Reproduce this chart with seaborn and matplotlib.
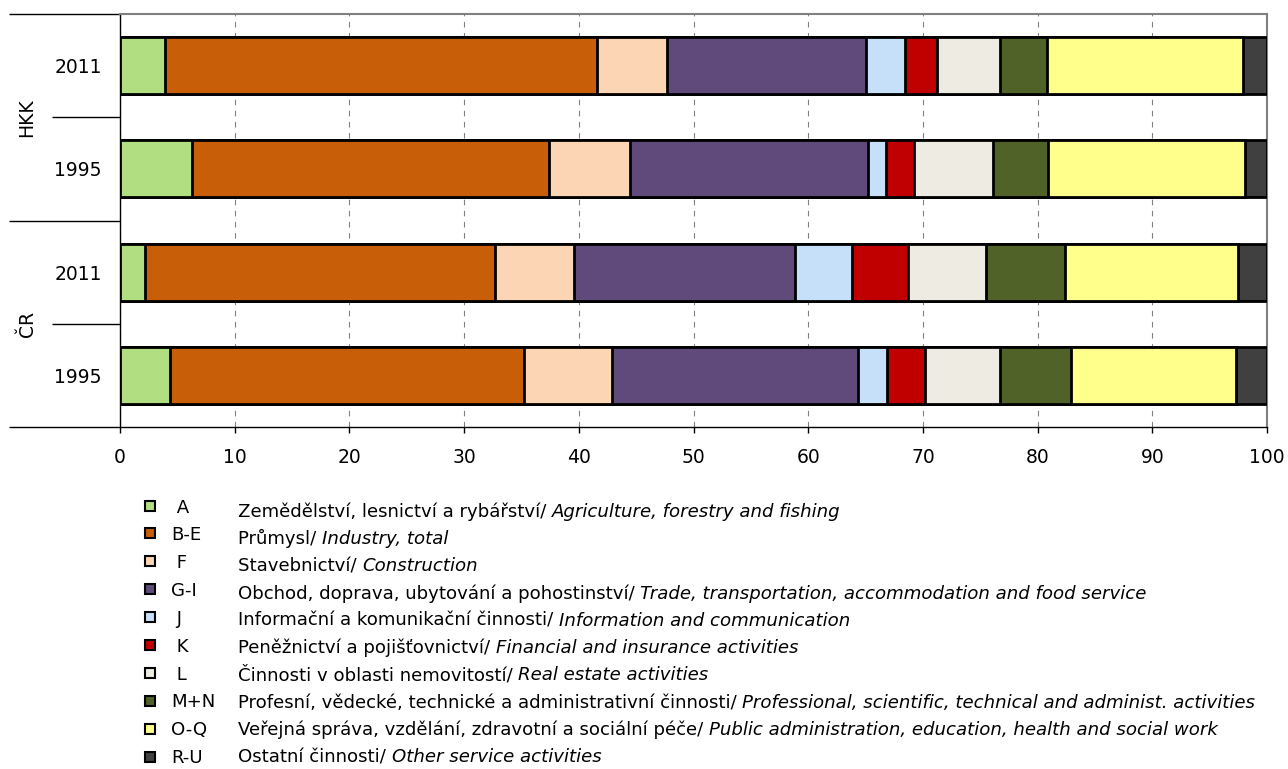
import matplotlib
matplotlib.use("Agg")
import matplotlib.pyplot as plt
import pandas as pd
import seaborn as sns
from matplotlib.patches import Rectangle

sections = ["A", "B-E", "F", "G-I", "J", "K", "L", "M+N", "O-Q", "R-U"]
section_colors = ["#B0DE80", "#C85E08", "#FCD5B4", "#604A7B", "#C5E0F8",
                  "#C00000", "#EEECE2", "#506228", "#FFFF8C", "#404040"]
desc_cz = [
    "Zemědělství, lesnictví a rybářství/ ",
    "Průmysl/ ",
    "Stavebnictví/ ",
    "Obchod, doprava, ubytování a pohostinství/ ",
    "Informační a komunikační činnosti/ ",
    "Peněžnictví a pojišťovnictví/ ",
    "Činnosti v oblasti nemovitostí/ ",
    "Profesní, vědecké, technické a administrativní činnosti/ ",
    "Veřejná správa, vzdělání, zdravotní a sociální péče/ ",
    "Ostatní činnosti/ ",
]
desc_en = [
    "Agriculture, forestry and fishing",
    "Industry, total",
    "Construction",
    "Trade, transportation, accommodation and food service",
    "Information and communication",
    "Financial and insurance activities",
    "Real estate activities",
    "Professional, scientific, technical and administ. activities",
    "Public administration, education, health and social work",
    "Other service activities",
]

row_regions = ["HKK", "HKK", "ČR", "ČR"]
row_years = ["2011", "1995", "2011", "1995"]

# shares of employment by section, %
hkk_2011 = [3.9, 37.7, 6.1, 17.3, 3.4, 2.8, 5.5, 4.1, 17.1, 2.1]
hkk_1995 = [6.3, 31.1, 7.1, 20.7, 1.6, 2.4, 6.95, 4.75, 17.2, 1.9]
cr_2011 = [2.2, 30.5, 6.9, 19.25, 5.0, 4.85, 6.8, 6.9, 15.1, 2.5]
cr_1995 = [4.4, 30.8, 7.7, 21.4, 2.6, 3.3, 6.5, 6.2, 14.4, 2.7]

rows = [hkk_2011, hkk_1995, cr_2011, cr_1995]
df = pd.DataFrame(rows, columns=sections)
df["row"] = [f"{r} {y}" for r, y in zip(row_regions, row_years)]
cum = df[sections].cumsum(axis=1)

sns.set_style("white")
plt.rcParams["font.family"] = ["DejaVu Sans"]
plt.rcParams["text.color"] = "black"
plt.rcParams["xtick.color"] = "black"
plt.rcParams["ytick.color"] = "black"
fs = 13.5
fs_leg = 13.1

W, H = 1288, 769
fig = plt.figure(figsize=(W / 100, H / 100), dpi=100)
ax = fig.add_axes([120 / W, 1 - 427 / H, 1147 / W, 413 / H])

# stacked bars: draw the cumulative totals from the widest to the narrowest
for i in reversed(range(len(sections))):
    sns.barplot(x=cum[sections[i]], y=df["row"], orient="h", color=section_colors[i],
                saturation=1, width=0.55, edgecolor="black", linewidth=2.0,
                ax=ax, zorder=3)

ax.set_xlim(0, 100)
ax.set_ylim(3.5, -0.5)
ax.set_xticks(range(0, 101, 10))
ax.xaxis.grid(True, linestyle=(0, (5, 5)), color="#808080", linewidth=0.8)
ax.yaxis.grid(False)
ax.set_axisbelow(True)
ax.set_xlabel("")
ax.set_ylabel("")
ax.set_yticks(range(len(row_years)))
ax.set_yticklabels(row_years)
ax.tick_params(axis="y", length=0, pad=13, labelsize=fs)
ax.tick_params(axis="x", length=4, width=1, direction="out", pad=11, labelsize=fs,
               bottom=True)

for side in ["top", "right"]:
    ax.spines[side].set_color("#808080")
    ax.spines[side].set_linewidth(1.5)
for side in ["left", "bottom"]:
    ax.spines[side].set_color("black")
    ax.spines[side].set_linewidth(1.0)

# multi-level category axis: group labels and separators
ytr = ax.get_yaxis_transform()
for reg in dict.fromkeys(row_regions):
    idx = [i for i, r in enumerate(row_regions) if r == reg]
    mid = (idx[0] + idx[-1]) / 2
    ax.text(-0.081, mid, reg, transform=ytr, rotation=90, ha="center",
            va="center", fontsize=fs)
for k in range(len(row_regions) + 1):
    pos = k - 0.5
    is_group = k == 0 or k == len(row_regions) or row_regions[k] != row_regions[k - 1]
    x0 = -0.0968 if is_group else -0.0593
    ax.plot([x0, 0], [pos, pos], transform=ytr, color="black", lw=1.0,
            clip_on=False, solid_capstyle="butt")

# legend below the chart
for i, code in enumerate(sections):
    sq_y = 505.5 + i * 27.9
    fig.add_artist(Rectangle((145 / W, 1 - (sq_y + 5) / H), 10 / W, 10 / H,
                             transform=fig.transFigure, facecolor=section_colors[i],
                             edgecolor="black", linewidth=1.5))
    label = f" {code}" if len(code) == 1 else code
    fig.text(171 / W, 1 - (512.7 + i * 27.8) / H, label, ha="left", va="baseline",
             fontsize=fs_leg)
    t = ax.annotate(desc_cz[i], xy=(238 / W, 1 - (516.7 + i * 27.3) / H),
                    xycoords="figure fraction", ha="left", va="baseline",
                    fontsize=fs_leg, annotation_clip=False)
    ax.annotate(desc_en[i], xy=(1, 0), xycoords=t, ha="left", va="bottom",
                fontsize=fs_leg, style="italic", annotation_clip=False)

fig.savefig("out.png", dpi=100)
